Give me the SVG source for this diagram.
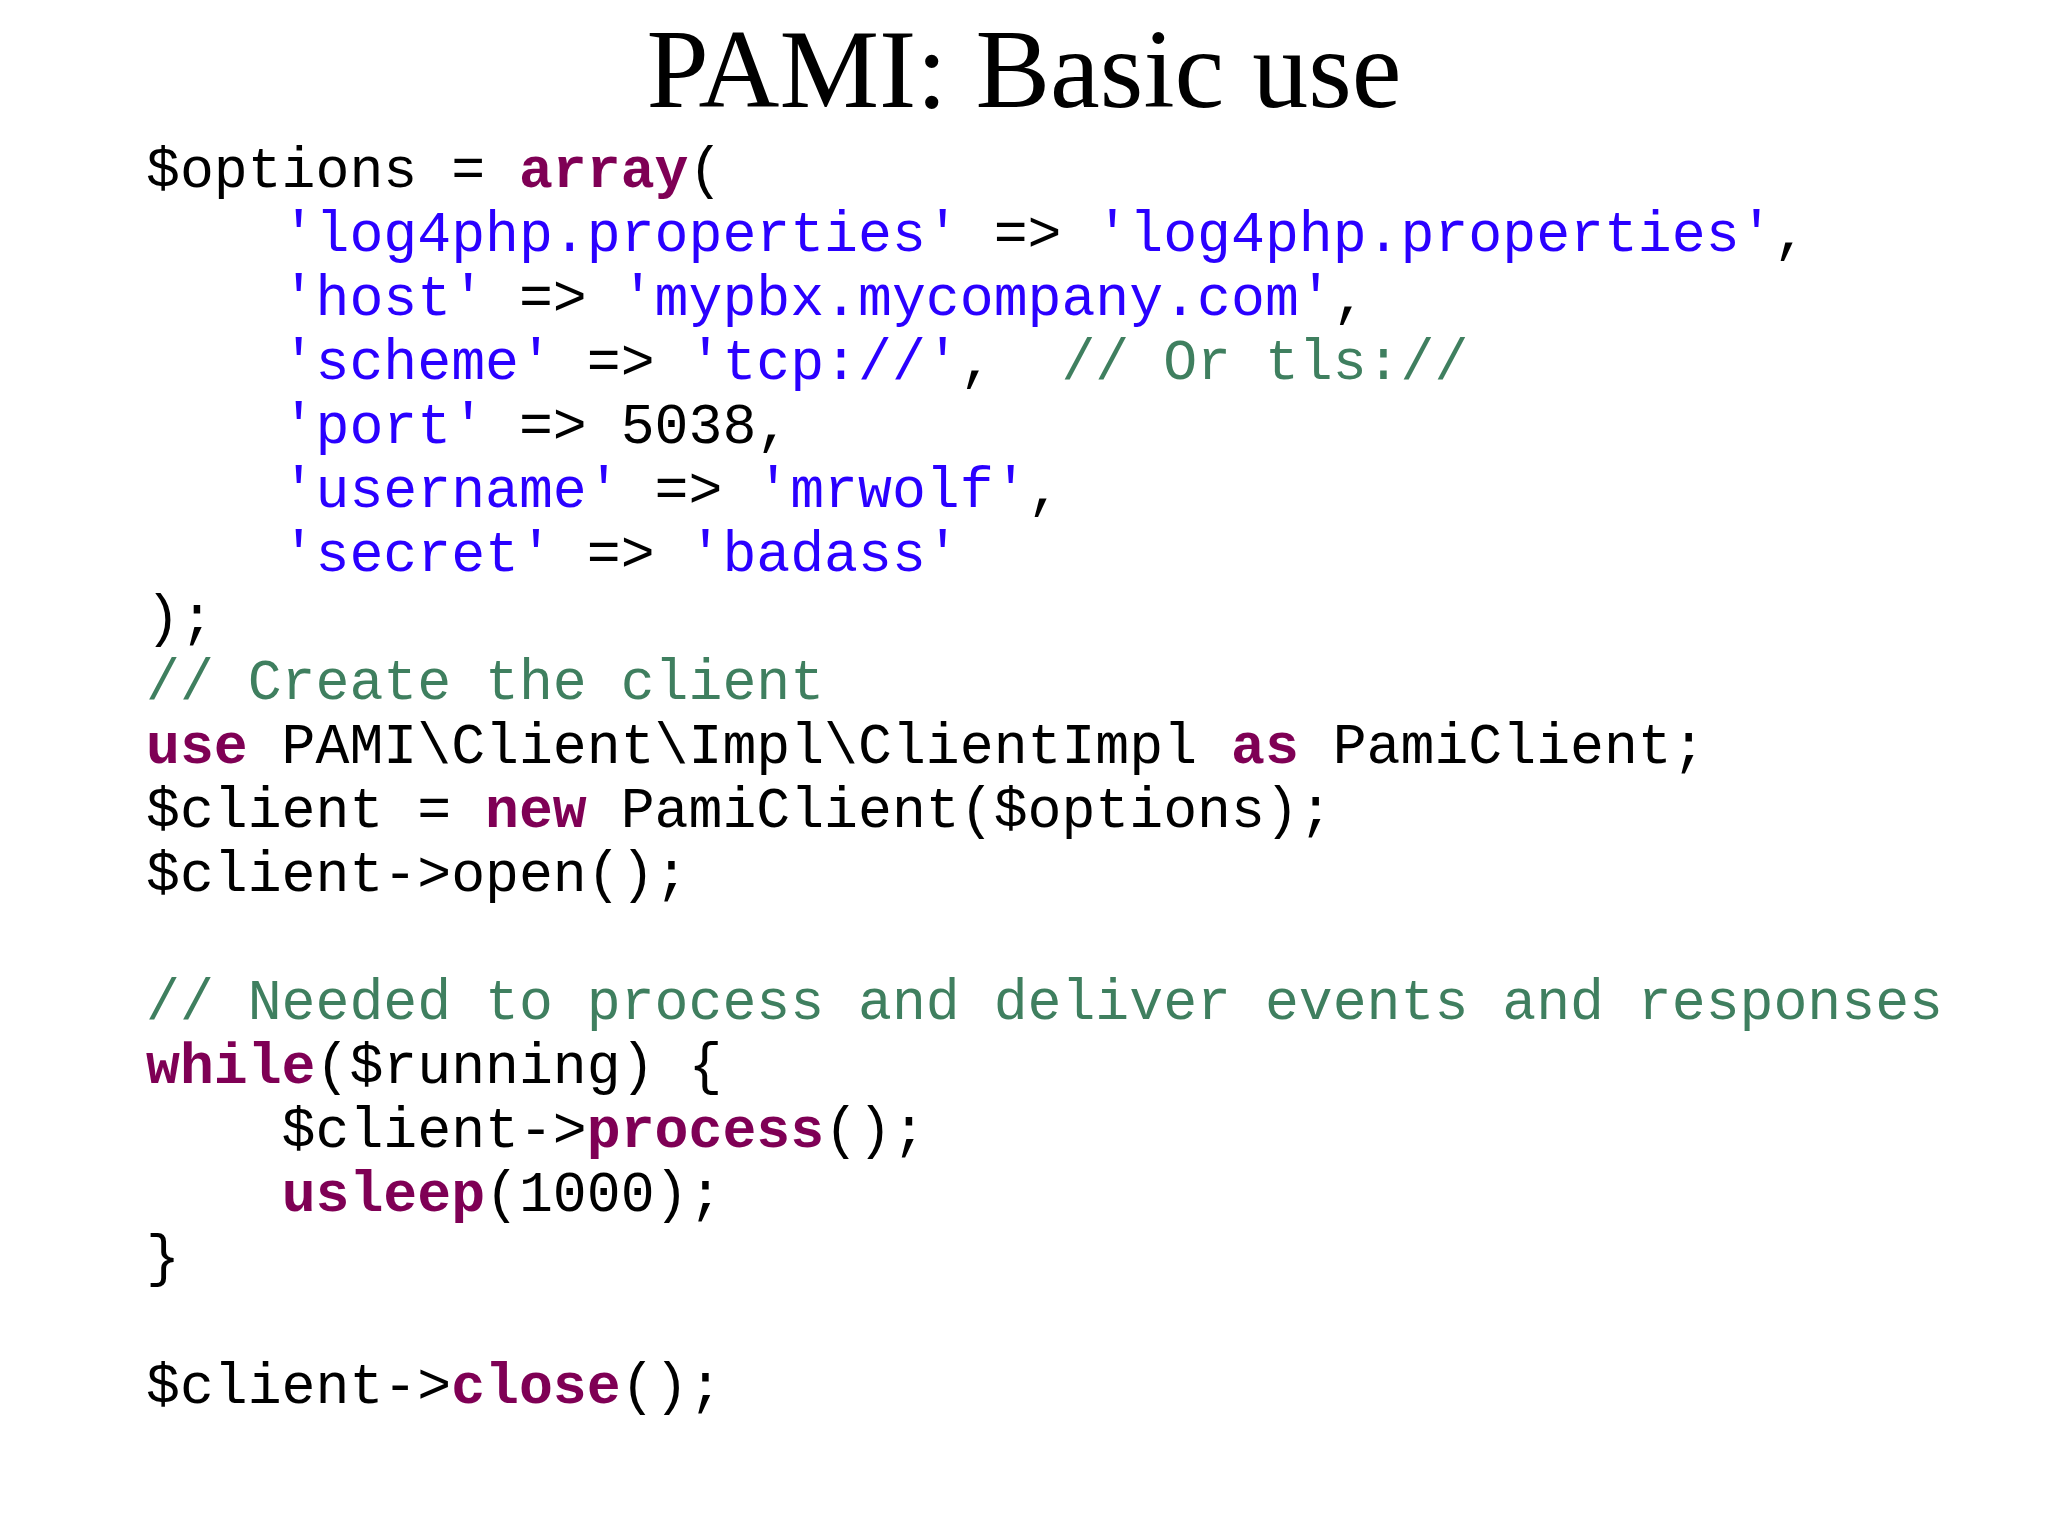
<svg xmlns="http://www.w3.org/2000/svg" width="2048" height="1535" viewBox="0 0 2048 1535">
<style>
.c{font-family:"Liberation Mono","Courier New",monospace;font-size:56.5px;fill:#000;white-space:pre}
.k{fill:#7f0055;font-weight:bold}
.s{fill:#2a00ff}
.m{fill:#3f7f5f}
</style>
<rect width="2048" height="1535" fill="#fff"/>
<text x="1024" y="107" text-anchor="middle" font-family="Liberation Serif,'Times New Roman',serif" font-size="112">PAMI: Basic use</text>
<g xml:space="preserve">
<text class="c" x="146" y="187">$options = <tspan class="k">array</tspan>(</text>
<text class="c" x="146" y="251">    <tspan class="s">'log4php.properties'</tspan> =&gt; <tspan class="s">'log4php.properties'</tspan>,</text>
<text class="c" x="146" y="315">    <tspan class="s">'host'</tspan> =&gt; <tspan class="s">'mypbx.mycompany.com'</tspan>,</text>
<text class="c" x="146" y="379">    <tspan class="s">'scheme'</tspan> =&gt; <tspan class="s">'tcp://'</tspan>,  <tspan class="m">// Or tls://</tspan></text>
<text class="c" x="146" y="443">    <tspan class="s">'port'</tspan> =&gt; 5038,</text>
<text class="c" x="146" y="507">    <tspan class="s">'username'</tspan> =&gt; <tspan class="s">'mrwolf'</tspan>,</text>
<text class="c" x="146" y="571">    <tspan class="s">'secret'</tspan> =&gt; <tspan class="s">'badass'</tspan></text>
<text class="c" x="146" y="635">);</text>
<text class="c m" x="146" y="699">// Create the client</text>
<text class="c" x="146" y="763"><tspan class="k">use</tspan> PAMI\Client\Impl\ClientImpl <tspan class="k">as</tspan> PamiClient;</text>
<text class="c" x="146" y="827">$client = <tspan class="k">new</tspan> PamiClient($options);</text>
<text class="c" x="146" y="891">$client-&gt;open();</text>
<text class="c m" x="146" y="1019">// Needed to process and deliver events and responses</text>
<text class="c" x="146" y="1083"><tspan class="k">while</tspan>($running) {</text>
<text class="c" x="146" y="1147">    $client-&gt;<tspan class="k">process</tspan>();</text>
<text class="c" x="146" y="1211">    <tspan class="k">usleep</tspan>(1000);</text>
<text class="c" x="146" y="1275">}</text>
<text class="c" x="146" y="1403">$client-&gt;<tspan class="k">close</tspan>();</text>
</g>
</svg>
